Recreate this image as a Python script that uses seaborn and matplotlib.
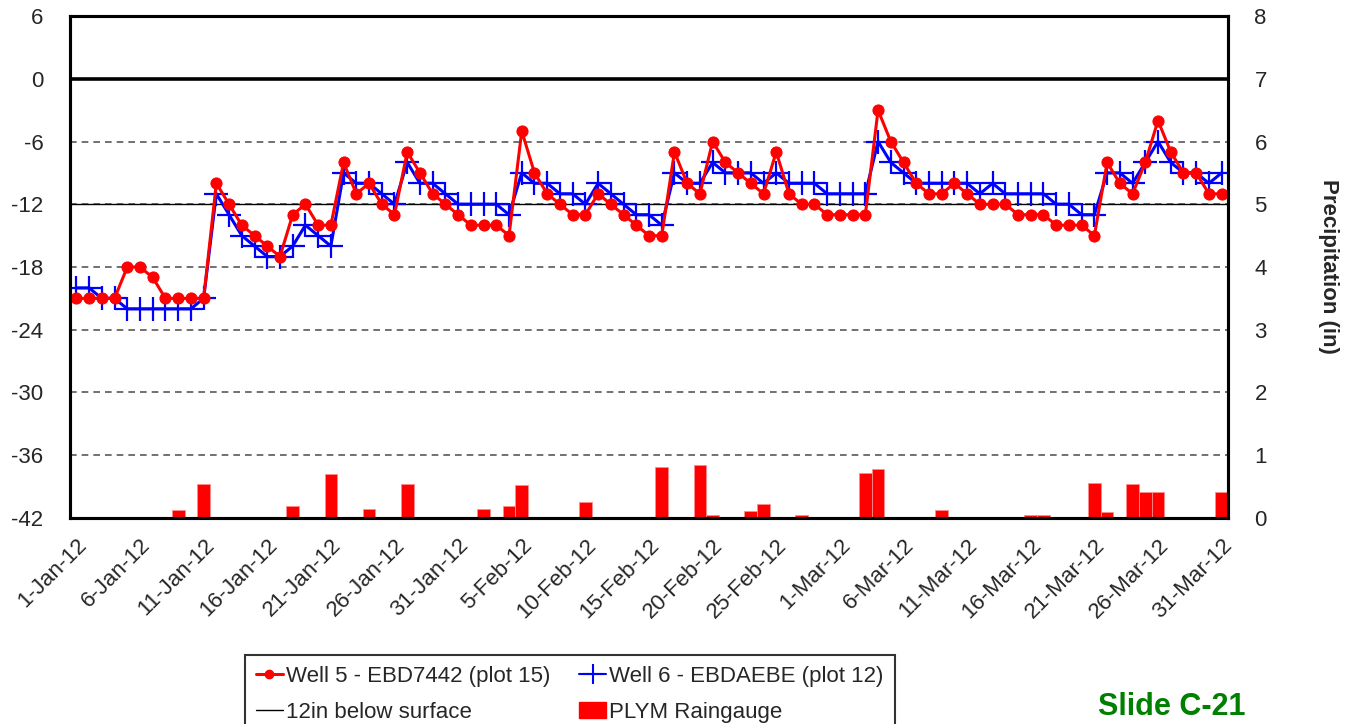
import numpy as np
import pandas as pd
import matplotlib
matplotlib.use('Agg')
import matplotlib.pyplot as plt
import seaborn as sns
from matplotlib.lines import Line2D
from matplotlib.patches import Patch

# daily readings, 1-Jan-12 .. 31-Mar-12
dates = pd.date_range('2012-01-01', '2012-03-31', freq='D')

well5 = [-21, -21, -21, -21, -18, -18, -19, -21, -21, -21, -21,
         -10, -12, -14, -15, -16, -17, -13, -12, -14, -14,
         -8, -11, -10, -12, -13, -7, -9, -11, -12, -13,
         -14, -14, -14, -15, -5, -9, -11, -12, -13, -13,
         -11, -12, -13, -14, -15, -15, -7, -10, -11, -6,
         -8, -9, -10, -11, -7, -11, -12, -12, -13, -13,
         -13, -13, -3, -6, -8, -10, -11, -11, -10, -11,
         -12, -12, -12, -13, -13, -13, -14, -14, -14, -15,
         -8, -10, -11, -8, -4, -7, -9, -9, -11, -11]

well6 = [-20, -20, -21, -21, -22, -22, -22, -22, -22, -22, -21,
         -11, -13, -15, -16, -17, -17, -16, -14, -15, -16,
         -9, -10, -10, -11, -12, -8, -10, -10, -11, -12,
         -12, -12, -12, -13, -9, -10, -10, -11, -11, -12,
         -10, -11, -12, -13, -13, -14, -9, -10, -10, -8,
         -9, -9, -9, -10, -9, -10, -10, -10, -11, -11,
         -11, -11, -6, -8, -9, -10, -10, -10, -10, -10,
         -11, -10, -11, -11, -11, -11, -12, -12, -13, -13,
         -9, -9, -10, -8, -6, -8, -9, -9, -10, -9]

rain = [0, 0, 0, 0, 0, 0, 0, 0, 0.13, 0,
        0.54, 0, 0, 0, 0, 0, 0.02, 0.19, 0, 0.02,
        0.70, 0, 0, 0.15, 0, 0, 0.54, 0, 0, 0,
        0, 0, 0.14, 0, 0.19, 0.52, 0, 0, 0.02, 0,
        0.26, 0.02, 0, 0, 0, 0, 0.81, 0, 0, 0.84,
        0.05, 0.02, 0, 0.11, 0.23, 0, 0, 0.05, 0, 0.02,
        0, 0, 0.71, 0.78, 0, 0, 0, 0, 0.12, 0,
        0, 0, 0.02, 0, 0, 0.04, 0.05, 0, 0, 0,
        0.56, 0.09, 0, 0.54, 0.42, 0.42, 0, 0, 0, 0, 0.42]

below_surface = -12
left_ticks = [-42, -36, -30, -24, -18, -12, -6, 0, 6]
right_ticks = [0, 1, 2, 3, 4, 5, 6, 7, 8]

df = pd.DataFrame({'day': np.arange(len(dates)), 'well5': well5,
                   'well6': well6, 'rain': rain})
tick_days = df['day'][::5]
tick_labels = [f'{d.day}-{d:%b}-{d:%y}' for d in dates[::5]]

sns.set_style('white')
plt.rcParams['font.family'] = ['Liberation Sans', 'DejaVu Sans']
plt.rcParams['axes.unicode_minus'] = False

fig = plt.figure(figsize=(13.59, 7.24), dpi=100)
ax = fig.add_axes([70 / 1359, 1 - 518 / 724, 1158 / 1359, 502 / 724])
ax2 = ax.twinx()

# rain bars on the right axis
sns.barplot(data=df, x='day', y='rain', ax=ax2, native_scale=True,
            color='red', saturation=1, width=1.0, errorbar=None,
            edgecolor='#ff8c8c', linewidth=0.6)

# well levels on the left axis
ax.yaxis.grid(True, linestyle=(0, (4, 3)), color='0.35', linewidth=1.2)
ax.xaxis.grid(False)
ax.axhline(0, color='black', linewidth=2.6)
ax.axhline(below_surface, color='black', linewidth=1.0)
sns.lineplot(data=df, x='day', y='well6', ax=ax, color='blue', linewidth=2.2,
             marker='+', markersize=17, markeredgewidth=1.6,
             markeredgecolor='blue')
sns.lineplot(data=df, x='day', y='well5', ax=ax, color='red', linewidth=2.2,
             marker='o', markersize=8, markeredgecolor='red')

ax.set_zorder(ax2.get_zorder() + 1)
ax.patch.set_visible(False)

ax.set_xlim(-0.5, 90.5)
ax.set_ylim(-42, 6)
ax2.set_ylim(0, 8)
ax.set_yticks(left_ticks)
ax2.set_yticks(right_ticks)
ax.set_xticks(tick_days, tick_labels, rotation=45, ha='right',
              rotation_mode='anchor')
ax.tick_params(axis='y', length=0, pad=19, labelsize=16)
ax.tick_params(axis='x', length=0, pad=12, labelsize=16)
ax2.tick_params(axis='y', length=0, pad=19, labelsize=16)
for a in (ax, ax2):
    a.set_xlabel('')
    a.set_ylabel('')
    for sp in a.spines.values():
        sp.set_color('black')
        sp.set_linewidth(2.2)

fig.text(1328 / 1359, 1 - 266 / 724, 'Precipitation (in)', rotation=270,
         fontsize=16, fontweight='bold', ha='center', va='center')
fig.text(1098 / 1359, 1 - 722 / 724, 'Slide C-21', fontsize=22,
         fontweight='bold', color='#008000', ha='left', va='bottom')

handles = [
    Line2D([], [], color='red', lw=2.2, marker='o', markersize=6),
    Line2D([], [], color='black', lw=1.0),
    Line2D([], [], color='blue', lw=1.5, marker='+', markersize=14,
           markeredgewidth=1.5),
    Patch(facecolor='red', edgecolor='red'),
]
labels = ['Well 5 - EBD7442 (plot 15)', '12in below surface',
          'Well 6 - EBDAEBE (plot 12)', 'PLYM Raingauge']
leg = fig.legend(handles, labels, ncol=2, loc='upper left',
                 bbox_to_anchor=(245 / 1359, 1 - 655 / 724), fontsize=16,
                 frameon=True, fancybox=False, edgecolor='black',
                 handlelength=1.2, handletextpad=0.15, columnspacing=1.3,
                 labelspacing=0.65, borderpad=0.5, borderaxespad=0)
leg.get_frame().set_linewidth(1.5)

fig.savefig('out.png', dpi=100)
plt.close(fig)
